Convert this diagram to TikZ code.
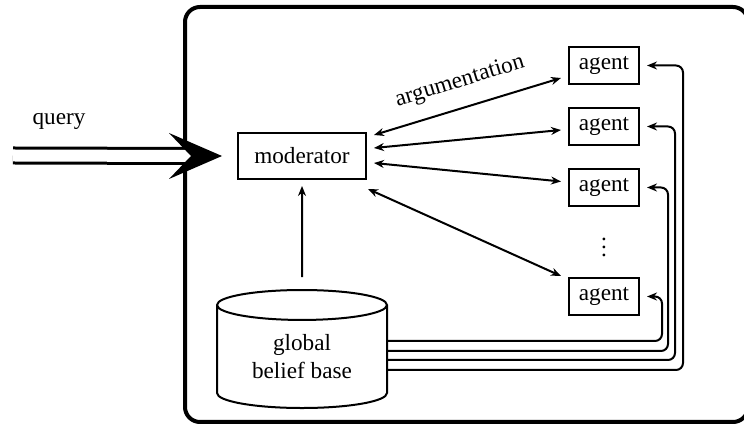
\documentclass[tikz,border=0pt]{standalone}
\usepackage{fontspec}
\setmainfont{Liberation Serif}
\usetikzlibrary{arrows.meta,positioning,shapes.geometric}

\begin{document}
\begin{tikzpicture}[x=0.5pt,y=-0.5pt,line width=1pt,
    font=\fontsize{11.6}{14}\selectfont,
    >={Stealth[length=5pt,width=4pt]},
    agentbox/.style={draw,minimum width=35pt,minimum height=18.5pt,inner sep=0pt},
    node distance=30.5pt,on grid]
  \useasboundingbox (0,0) rectangle (744,426);
  \draw[line width=2pt,rounded corners=7.5pt] (185,7) rectangle (748,422);

  \node[draw,minimum width=64pt,minimum height=23pt,inner sep=0pt] (mod) at (302,156) {moderator};
  \node[cylinder,draw,shape border rotate=90,aspect=0.3,minimum width=85pt,
        minimum height=59pt,align=center,inner sep=0pt] (kb) at (302,357) {global\\belief base};
  \node[agentbox] (a1) at (604,65.5) {agent};
  \node[agentbox] (a2) [below=of a1] {agent};
  \node[agentbox] (a3) [below=of a2] {agent};
  \node (dots) [below=27pt of a3] {$\vdots$};
  \node[agentbox] (a4) [below=54.5pt of a3] {agent};

  % query input
  \coordinate (qin) at (13,155.5);
  \node (query) at (59,121) {query};
  \draw[line width=1.5pt,double distance=6pt] (qin) -- ([xshift=-20pt]mod.west);
  \fill ([xshift=-7.5pt]mod.west) -- ++(-26.5pt,11.5pt) -- ++(11pt,-11.5pt)
        -- ++(-11pt,-11.5pt) -- cycle;

  % argumentation
  \draw[<->] ([xshift=3.5pt,yshift=10.5pt]mod.east)
      -- node[sloped,above=4pt] {argumentation} ([xshift=-3.5pt,yshift=-6.25pt]a1.west);
  \draw[<->] ([xshift=3.5pt,yshift=4pt]mod.east) -- ([xshift=-3.5pt,yshift=-1.75pt]a2.west);
  \draw[<->] ([xshift=3.5pt,yshift=-3.5pt]mod.east) -- ([xshift=-3.5pt,yshift=3pt]a3.west);
  \draw[<->] ([xshift=0.5pt,yshift=-4.5pt]mod.south east) -- ([xshift=-3.5pt,yshift=0.5pt]a4.north west);

  \draw[->,shorten <=6pt,shorten >=3pt] (kb.north) -- (mod.south);

  % beliefs to the agents
  \coordinate (c4) at (662,0);
  \coordinate (c3) at (668,0);
  \coordinate (c2) at (675,0);
  \coordinate (c1) at (683,0);
  \draw[->,rounded corners=3.5pt,shorten >=3.5pt] ([yshift=8pt]kb.east) -| (c4 |- a4.east) -- (a4.east);
  \draw[->,rounded corners=3.5pt,shorten >=3.5pt] ([yshift=3pt]kb.east) -| (c3 |- a3.east) -- (a3.east);
  \draw[->,rounded corners=3.5pt,shorten >=3.5pt] ([yshift=-1.5pt]kb.east) -| (c2 |- a2.east) -- (a2.east);
  \draw[->,rounded corners=3.5pt,shorten >=3.5pt] ([yshift=-6.5pt]kb.east) -| (c1 |- a1.east) -- (a1.east);
\end{tikzpicture}
\end{document}
